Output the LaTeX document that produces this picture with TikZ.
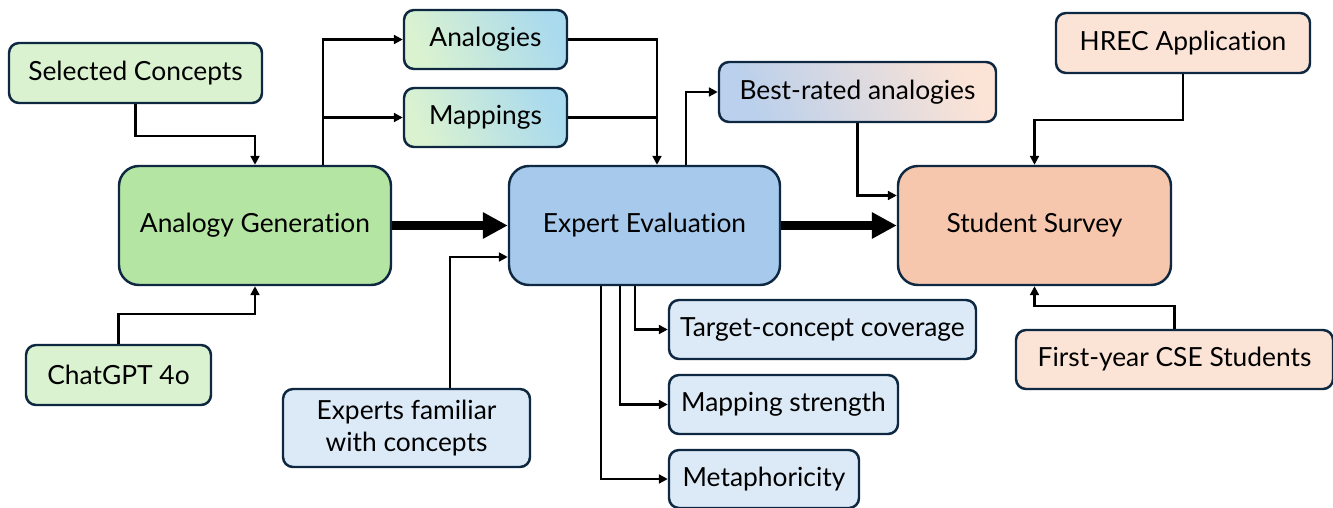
\documentclass[tikz,border=0pt]{standalone}
\usepackage{fontspec}
\setmainfont{Lato}[Ligatures=NoCommon]
\usetikzlibrary{arrows.meta}
\definecolor{flowBorder}{RGB}{14, 40, 65}
\definecolor{flowGreen}{RGB}{180, 229, 162}
\definecolor{flowGreenLight}{RGB}{218, 242, 208}
\definecolor{flowBlue}{RGB}{166, 201, 236}
\definecolor{flowBlueLight}{RGB}{220, 234, 247}
\definecolor{flowCyan}{RGB}{170, 218, 238}
\definecolor{flowOrange}{RGB}{246, 198, 173}
\definecolor{flowOrangeLight}{RGB}{251, 227, 214}
\definecolor{flowBlueTop}{RGB}{186, 208, 236}

\begin{document}
\begin{tikzpicture}[
    font=\fontsize{15}{18}\selectfont,
    box/.style={draw=flowBorder, line width=1.4pt, rounded corners=0.2cm, inner sep=0pt, minimum height=1.2cm, align=center},
    stage/.style={box, rounded corners=0.4cm, minimum width=5.44cm, minimum height=2.38cm},
    conn/.style={line width=1.2pt, -{Triangle[length=5pt, width=5pt]}},
    bigarrow/.style={line width=5pt, -{Triangle[length=0.5cm, width=0.5cm]}}
]
    \useasboundingbox (0,0) rectangle (26.66,-10.16);

    % Main stages
    \node[stage, fill=flowGreen] (gen) at (5.10,-4.51) {Analogy Generation};
    \node[stage, fill=flowBlue, minimum width=5.42cm] (eval) at (12.89,-4.51) {Expert Evaluation};
    \node[stage, fill=flowOrange, minimum width=5.46cm] (surv) at (20.69,-4.51) {Student Survey};

    % Inputs of the generation
    \node[box, fill=flowGreenLight, minimum width=5.06cm] (sel) at (2.71,-1.46) {Selected Concepts};
    \node[box, fill=flowGreenLight, minimum width=3.70cm] (gpt) at (2.37,-7.50) {ChatGPT 4o};

    % Outputs of the generation
    \node[box, left color=flowGreenLight, right color=flowCyan, shading angle=115, minimum width=3.26cm, minimum height=1.18cm] (ana) at (9.71,-0.79) {Analogies};
    \node[box, left color=flowGreenLight, right color=flowCyan, shading angle=115, minimum width=3.26cm, minimum height=1.18cm] (map) at (9.71,-2.35) {Mappings};

    % Evaluation
    \node[box, fill=flowBlueLight, minimum width=4.94cm, minimum height=1.56cm] (expf) at (8.13,-8.56) {Experts familiar\\with concepts};
    \node[box, fill=flowBlueLight, minimum width=6.14cm, minimum height=1.18cm] (tgt) at (16.45,-6.59) {Target-concept coverage};
    \node[box, fill=flowBlueLight, minimum width=4.58cm, minimum height=1.18cm] (mstr) at (15.67,-8.09) {Mapping strength};
    \node[box, fill=flowBlueLight, minimum width=3.80cm, minimum height=1.16cm] (meta) at (15.28,-9.58) {Metaphoricity};
    \node[box, left color=flowBlueTop, right color=flowOrangeLight, shading angle=115, minimum width=5.54cm] (best) at (17.15,-1.84) {Best-rated analogies};

    % Survey
    \node[box, fill=flowOrangeLight, minimum width=5.08cm] (hrec) at (23.66,-0.86) {HREC Application};
    \node[box, fill=flowOrangeLight, minimum width=6.34cm, minimum height=1.18cm] (first) at (23.49,-7.19) {First-year CSE Students};

    % Helper points
    \coordinate (split) at ([xshift=1.36cm]gen.north);
    \coordinate (join) at ([xshift=0.25cm]eval.north);

    % Main flow
    \draw[bigarrow] (gen) -- (eval);
    \draw[bigarrow] (eval) -- (surv);

    % Connectors
    \draw[conn] (sel.south) -- ++(0,-0.64) -| (gen.north);
    \draw[conn] (gpt.north) -- ++(0,0.6) -| (gen.south);
    \draw[conn] (split) |- (ana.west);
    \draw[conn] (split |- map.west) -- (map.west);
    \draw[conn] (ana.east) -| (join);
    \draw[line width=1.2pt] (map.east) -- (map.east -| join);
    \draw[conn] ([xshift=0.83cm]eval.north) |- (best.west);
    \draw[conn] (best.south) |- ([yshift=0.6cm]surv.west);
    \draw[conn] ([xshift=0.87cm]expf.north) |- ([yshift=-0.63cm]eval.west);
    \draw[conn] ([xshift=-0.19cm]eval.south) |- (tgt.west);
    \draw[conn] ([xshift=-0.49cm]eval.south) |- (mstr.west);
    \draw[conn] ([xshift=-0.87cm]eval.south) |- (meta.west);
    \draw[conn] (hrec.south) -- ++(0,-0.92) -| (surv.north);
    \draw[conn] (first.north) -- ++(0,0.46) -| (surv.south);
\end{tikzpicture}
\end{document}
